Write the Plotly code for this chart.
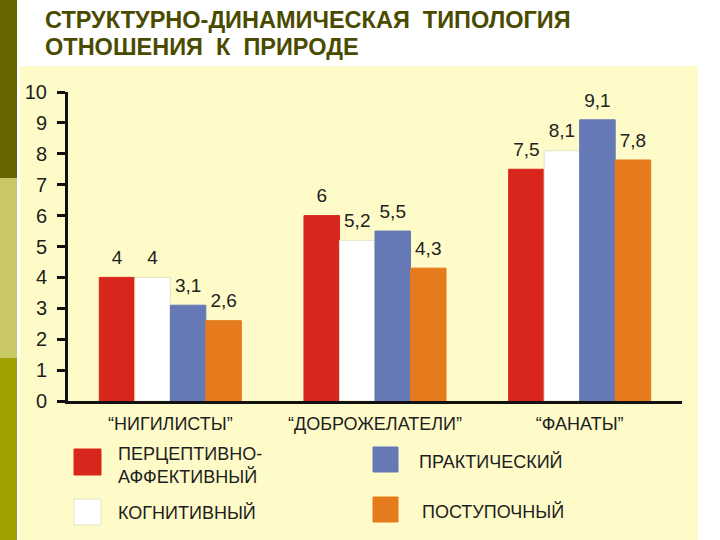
import plotly.graph_objects as go

categories = ["“НИГИЛИСТЫ”", "“ДОБРОЖЕЛАТЕЛИ”", "“ФАНАТЫ”"]
series_names = ["ПЕРЦЕПТИВНО-<br>АФФЕКТИВНЫЙ", "КОГНИТИВНЫЙ", "ПРАКТИЧЕСКИЙ", "ПОСТУПОЧНЫЙ"]
perceptive = [4.0, 6.0, 7.5]
cognitive = [4.0, 5.2, 8.1]
practical = [3.1, 5.5, 9.1]
behavioral = [2.6, 4.3, 7.8]
series_values = [perceptive, cognitive, practical, behavioral]
colors = ["#d9261c", "#ffffff", "#6479b6", "#e57b1d"]
y_ticks = list(range(0, 11))
title_lines = ["СТРУКТУРНО-ДИНАМИЧЕСКАЯ  ТИПОЛОГИЯ", "ОТНОШЕНИЯ  К  ПРИРОДЕ"]

FONT = "Liberation Sans, Arial, sans-serif"
W, H = 720, 540
L, R, T, B = 68, 38, 92, 139
PW, PH = W - L - R, H - T - B


def px(xp):
    return (xp - L) / PW


def py(yp):
    return (H - B - yp) / PH


def fmt(v):
    s = ("%g" % v)
    return s.replace(".", ",")


fig = go.Figure()
for i, (name, vals) in enumerate(zip(series_names, series_values)):
    fig.add_trace(go.Bar(
        x=categories, y=vals, name=name,
        marker=dict(color=colors[i],
                    line=dict(color="#e6e2c4" if colors[i] == "#ffffff" else colors[i], width=1)),
        offsetgroup=str(i), hoverinfo="skip", showlegend=False,
    ))
for i, vals in enumerate(series_values):
    fig.add_trace(go.Scatter(
        x=categories, y=vals, mode="markers+text",
        text=[fmt(v) for v in vals], textposition="top center",
        textfont=dict(family=FONT, size=19, color="#222222"),
        marker=dict(size=12, opacity=0),
        offsetgroup=str(i), hoverinfo="skip", showlegend=False, cliponaxis=False,
    ))

shapes = []
# left sidebar
shapes.append(dict(type="rect", xref="paper", yref="paper", x0=px(0), x1=px(17), y0=py(0), y1=py(178),
                   fillcolor="#666600", line=dict(width=0), layer="below"))
shapes.append(dict(type="rect", xref="paper", yref="paper", x0=px(0), x1=px(17), y0=py(178), y1=py(358),
                   fillcolor="#c8c866", line=dict(width=0), layer="below"))
shapes.append(dict(type="rect", xref="paper", yref="paper", x0=px(0), x1=px(17), y0=py(358), y1=py(540),
                   fillcolor="#a0a000", line=dict(width=0), layer="below"))
# yellow panel
shapes.append(dict(type="rect", xref="paper", yref="paper", x0=px(20), x1=px(698), y0=py(66), y1=py(540),
                   fillcolor="#fefbc8", line=dict(width=0), layer="below"))

# legend squares
legend_boxes = [(74, 449, 101, 475), (74, 499, 101, 525), (373, 447, 398, 472), (373, 497, 398, 522)]
for (x0, y0, x1, y1), c in zip(legend_boxes, colors):
    shapes.append(dict(type="rect", xref="paper", yref="paper", x0=px(x0), x1=px(x1), y0=py(y0), y1=py(y1),
                       fillcolor=c, line=dict(color="#e6e2c4" if c == "#ffffff" else c, width=1)))

legend_text_pos = [(116, 465), (116, 512), (417, 461), (420, 511)]
annotations = []
for (x, y), name in zip(legend_text_pos, series_names):
    annotations.append(dict(xref="paper", yref="paper", x=px(x), y=py(y), xanchor="left", yanchor="middle",
                            text=name, showarrow=False, align="left",
                            font=dict(family=FONT, size=18, color="#1e1e1e")))

# title (two lines placed separately for exact spacing)
for line, ymid in zip(title_lines, [20, 47]):
    annotations.append(dict(xref="paper", yref="paper", x=px(43), y=py(ymid), xanchor="left", yanchor="middle",
                            text=line, showarrow=False, align="left",
                            font=dict(family=FONT, size=23.5, color="#4b4b00", weight="bold")))

fig.update_layout(
    width=W, height=H,
    margin=dict(l=L, r=R, t=T, b=B),
    paper_bgcolor="#ffffff", plot_bgcolor="rgba(0,0,0,0)",
    barmode="group", bargap=0.306, bargroupgap=0,
    scattermode="group", scattergap=0.306,
    shapes=shapes, annotations=annotations,
    xaxis=dict(type="category", range=[-0.5, 2.5], showline=True, linecolor="#111111", linewidth=3,
               ticks="", showgrid=False, zeroline=False,
               tickfont=dict(family=FONT, size=18, color="#1e1e1e"), ticklabelstandoff=4),
    xaxis2=dict(overlaying="x", range=[-0.5, 2.5], tickvals=[0.5, 1.5, 2.5], ticks="outside",
                ticklen=12, tickwidth=3, tickcolor="#111111", showticklabels=False,
                showline=False, showgrid=False, zeroline=False, side="bottom", anchor="y"),
    yaxis=dict(range=[0, 10], tickvals=y_ticks, ticks="outside", ticklen=8, tickwidth=3,
               tickcolor="#111111", showline=True, linecolor="#111111", linewidth=3,
               showgrid=False, zeroline=False, ticklabelstandoff=6,
               tickfont=dict(family=FONT, size=20, color="#1e1e1e")),
    showlegend=False,
)

fig.write_html("out.html")
